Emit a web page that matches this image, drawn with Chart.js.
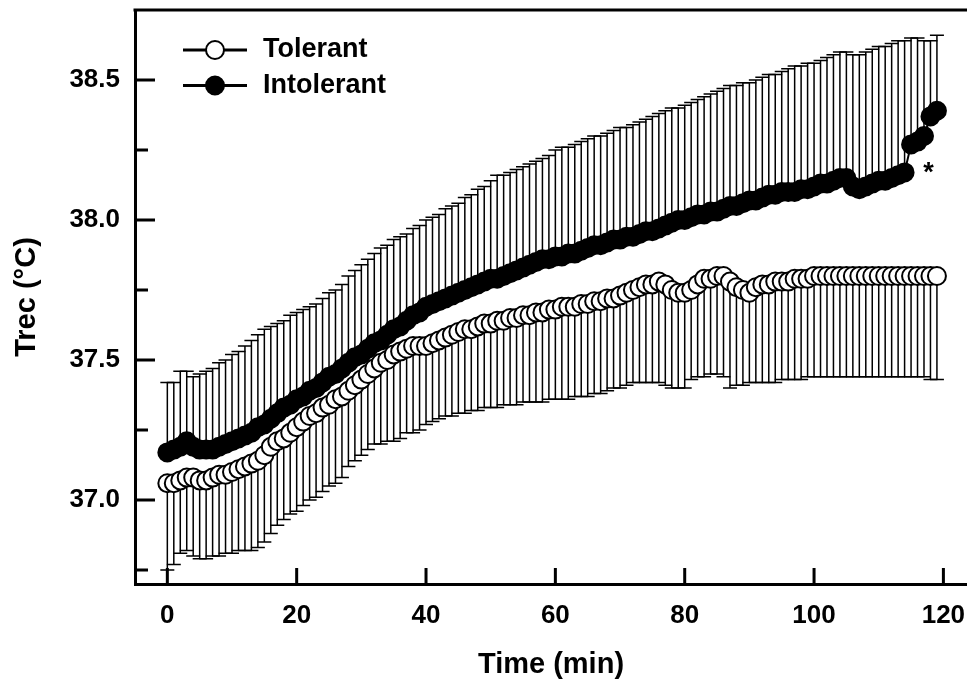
<!DOCTYPE html>
<html>
<head>
<meta charset="utf-8">
<title>Trec - Tolerant vs Intolerant</title>
<script src="https://cdn.jsdelivr.net/npm/chart.js@4.4.1/dist/chart.umd.min.js"></script>
<style>
  html, body { margin: 0; padding: 0; background: #fff; }
  #wrap { width: 967px; height: 690px; }
</style>
</head>
<body>
<div id="wrap"><canvas id="trecChart" width="967" height="690"></canvas></div>
<script>
// ==========================================
// DATA
// ==========================================

// Time points (min)
const minutes = [
  0, 1, 2, 3, 4, 5, 6, 7, 8, 9,
  10, 11, 12, 13, 14, 15, 16, 17, 18, 19,
  20, 21, 22, 23, 24, 25, 26, 27, 28, 29,
  30, 31, 32, 33, 34, 35, 36, 37, 38, 39,
  40, 41, 42, 43, 44, 45, 46, 47, 48, 49,
  50, 51, 52, 53, 54, 55, 56, 57, 58, 59,
  60, 61, 62, 63, 64, 65, 66, 67, 68, 69,
  70, 71, 72, 73, 74, 75, 76, 77, 78, 79,
  80, 81, 82, 83, 84, 85, 86, 87, 88, 89,
  90, 91, 92, 93, 94, 95, 96, 97, 98, 99,
  100, 101, 102, 103, 104, 105, 106, 107, 108, 109,
  110, 111, 112, 113, 114, 115, 116, 117, 118, 119
];

// Tolerant: mean Trec (°C)
const tolerantMean = [
  37.06, 37.06, 37.07, 37.08, 37.08, 37.07, 37.07, 37.08, 37.09, 37.09,
  37.10, 37.11, 37.12, 37.13, 37.14, 37.16, 37.19, 37.21, 37.22, 37.24,
  37.26, 37.28, 37.30, 37.31, 37.33, 37.34, 37.36, 37.37, 37.39, 37.41,
  37.43, 37.45, 37.47, 37.49, 37.50, 37.52, 37.53, 37.54, 37.55, 37.55,
  37.55, 37.56, 37.57, 37.58, 37.59, 37.60, 37.61, 37.61, 37.62, 37.63,
  37.63, 37.64, 37.64, 37.65, 37.65, 37.66, 37.66, 37.67, 37.67, 37.68,
  37.68, 37.69, 37.69, 37.69, 37.70, 37.70, 37.71, 37.71, 37.72, 37.72,
  37.73, 37.74, 37.75, 37.76, 37.77, 37.77, 37.78, 37.77, 37.75, 37.74,
  37.74, 37.75, 37.77, 37.79, 37.79, 37.80, 37.80, 37.78, 37.76, 37.75,
  37.74, 37.76, 37.77, 37.77, 37.78, 37.78, 37.78, 37.79, 37.79, 37.79,
  37.80, 37.80, 37.80, 37.80, 37.80, 37.80, 37.80, 37.80, 37.80, 37.80,
  37.80, 37.80, 37.80, 37.80, 37.80, 37.80, 37.80, 37.80, 37.80, 37.80
];

// Tolerant: lower end of the SD bar (°C)
const tolerantLower = [
  36.75, 36.77, 36.81, 36.82, 36.80, 36.79, 36.79, 36.80, 36.80, 36.81,
  36.81, 36.82, 36.82, 36.82, 36.83, 36.85, 36.88, 36.91, 36.93, 36.95,
  36.96, 36.98, 37.00, 37.01, 37.03, 37.05, 37.06, 37.08, 37.12, 37.14,
  37.16, 37.18, 37.20, 37.20, 37.21, 37.21, 37.22, 37.24, 37.24, 37.25,
  37.27, 37.28, 37.29, 37.30, 37.30, 37.31, 37.31, 37.32, 37.32, 37.33,
  37.33, 37.33, 37.34, 37.34, 37.34, 37.35, 37.35, 37.35, 37.35, 37.36,
  37.36, 37.36, 37.36, 37.37, 37.37, 37.37, 37.38, 37.38, 37.39, 37.40,
  37.40, 37.41, 37.42, 37.42, 37.42, 37.42, 37.42, 37.41, 37.40, 37.40,
  37.40, 37.43, 37.44, 37.44, 37.45, 37.45, 37.44, 37.40, 37.41, 37.41,
  37.42, 37.42, 37.42, 37.42, 37.42, 37.43, 37.43, 37.43, 37.43, 37.44,
  37.44, 37.44, 37.44, 37.44, 37.44, 37.44, 37.44, 37.44, 37.44, 37.44,
  37.44, 37.44, 37.44, 37.44, 37.44, 37.44, 37.44, 37.44, 37.43, 37.43
];

// Intolerant: mean Trec (°C)
const intolerantMean = [
  37.17, 37.18, 37.19, 37.21, 37.19, 37.18, 37.18, 37.18, 37.19, 37.20,
  37.21, 37.22, 37.23, 37.24, 37.26, 37.27, 37.29, 37.31, 37.33, 37.34,
  37.36, 37.37, 37.39, 37.40, 37.42, 37.44, 37.45, 37.47, 37.49, 37.51,
  37.52, 37.54, 37.56, 37.57, 37.59, 37.61, 37.62, 37.64, 37.66, 37.67,
  37.69, 37.70, 37.71, 37.72, 37.73, 37.74, 37.75, 37.76, 37.77, 37.78,
  37.79, 37.79, 37.80, 37.81, 37.82, 37.83, 37.84, 37.85, 37.86, 37.86,
  37.87, 37.87, 37.88, 37.88, 37.89, 37.90, 37.91, 37.91, 37.92, 37.93,
  37.93, 37.94, 37.94, 37.95, 37.96, 37.96, 37.97, 37.98, 37.99, 38.00,
  38.00, 38.01, 38.02, 38.02, 38.03, 38.03, 38.04, 38.05, 38.05, 38.06,
  38.07, 38.07, 38.08, 38.09, 38.09, 38.10, 38.10, 38.10, 38.11, 38.11,
  38.12, 38.13, 38.13, 38.14, 38.15, 38.15, 38.12, 38.11, 38.12, 38.13,
  38.14, 38.14, 38.15, 38.16, 38.17, 38.27, 38.28, 38.30, 38.37, 38.39
];

// Intolerant: upper end of the SD bar (°C)
const intolerantUpper = [
  37.42, 37.42, 37.46, 37.46, 37.44, 37.45, 37.46, 37.47, 37.49, 37.50,
  37.52, 37.53, 37.55, 37.57, 37.59, 37.61, 37.62, 37.63, 37.64, 37.66,
  37.67, 37.68, 37.69, 37.70, 37.72, 37.74, 37.75, 37.77, 37.80, 37.82,
  37.84, 37.86, 37.88, 37.90, 37.91, 37.93, 37.94, 37.95, 37.97, 37.98,
  38.00, 38.01, 38.02, 38.04, 38.05, 38.06, 38.08, 38.09, 38.11, 38.12,
  38.14, 38.16, 38.16, 38.17, 38.18, 38.19, 38.20, 38.21, 38.22, 38.23,
  38.25, 38.26, 38.26, 38.27, 38.28, 38.29, 38.30, 38.30, 38.31, 38.32,
  38.33, 38.33, 38.34, 38.35, 38.36, 38.37, 38.38, 38.39, 38.40, 38.40,
  38.41, 38.42, 38.43, 38.44, 38.45, 38.46, 38.47, 38.48, 38.48, 38.49,
  38.49, 38.50, 38.51, 38.52, 38.52, 38.53, 38.54, 38.55, 38.55, 38.56,
  38.56, 38.57, 38.58, 38.59, 38.60, 38.60, 38.59, 38.59, 38.60, 38.61,
  38.62, 38.62, 38.63, 38.64, 38.64, 38.65, 38.65, 38.64, 38.64, 38.66
];

// Axis ticks
const xTickValues = [0, 20, 40, 60, 80, 100, 120];
const yMajorTicks = [37.0, 37.5, 38.0, 38.5];
const yMinorTicks = [36.75, 37.25, 37.75, 38.25];

// Significance marker (index into the Intolerant series)
const sigIndex = [114];
const sigText = ['*'];

// ==========================================
// PLUGINS
// ==========================================

const FONT = '"Liberation Sans", Arial, Helvetica, sans-serif';

// One-sided SD bars, drawn under the markers
const errorBars = {
  id: 'errorBars',
  beforeDatasetsDraw(chart) {
    const { ctx, scales: { x, y } } = chart;
    ctx.save();
    ctx.strokeStyle = '#000';
    ctx.lineWidth = 1.5;
    chart.data.datasets.forEach(ds => {
      ds.errorEnds.forEach((end, i) => {
        const px = x.getPixelForValue(ds.data[i].x);
        const py0 = y.getPixelForValue(ds.data[i].y);
        const py1 = y.getPixelForValue(end);
        ctx.beginPath();
        ctx.moveTo(px, py0);
        ctx.lineTo(px, py1);
        ctx.moveTo(px - 7, py1);
        ctx.lineTo(px + 7, py1);
        ctx.stroke();
      });
    });
    ctx.restore();
  }
};

// Inward tick marks and the top frame line
const axisDecor = {
  id: 'axisDecor',
  afterDraw(chart) {
    const { ctx, chartArea: area, scales: { x, y } } = chart;
    ctx.save();
    ctx.strokeStyle = '#000';
    ctx.lineWidth = 3;
    ctx.beginPath();
    xTickValues.forEach(v => {
      const px = x.getPixelForValue(v);
      ctx.moveTo(px, area.bottom);
      ctx.lineTo(px, area.bottom - 16);
    });
    yMajorTicks.forEach(v => {
      const py = y.getPixelForValue(v);
      ctx.moveTo(area.left, py);
      ctx.lineTo(area.left + 20, py);
    });
    yMinorTicks.forEach(v => {
      const py = y.getPixelForValue(v);
      ctx.moveTo(area.left, py);
      ctx.lineTo(area.left + 13, py);
    });
    ctx.moveTo(area.left - 1.5, area.top);
    ctx.lineTo(area.right, area.top);
    ctx.stroke();
    ctx.restore();
  }
};

// Legend: line + marker + label
const lineLegend = {
  id: 'lineLegend',
  afterDraw(chart) {
    const { ctx, chartArea: area } = chart;
    ctx.save();
    chart.data.datasets.forEach((ds, i) => {
      const cy = area.top + 40 + i * 35.5;
      const x0 = area.left + 48;
      ctx.strokeStyle = '#000';
      ctx.lineWidth = 3;
      ctx.beginPath();
      ctx.moveTo(x0, cy);
      ctx.lineTo(x0 + 64, cy);
      ctx.stroke();
      ctx.beginPath();
      ctx.arc(x0 + 32, cy, ds.pointRadius, 0, Math.PI * 2);
      ctx.fillStyle = ds.pointBackgroundColor;
      ctx.fill();
      ctx.lineWidth = ds.pointBorderWidth;
      ctx.stroke();
      ctx.fillStyle = '#000';
      ctx.font = 'bold 27px ' + FONT;
      ctx.textAlign = 'left';
      ctx.textBaseline = 'middle';
      ctx.fillText(ds.label, x0 + 80, cy);
    });
    ctx.restore();
  }
};

// Asterisk beside the significant Intolerant point
const sigMarks = {
  id: 'sigMarks',
  afterDatasetsDraw(chart) {
    const { ctx, scales: { x, y } } = chart;
    const ds = chart.data.datasets[1];
    ctx.save();
    ctx.fillStyle = '#000';
    ctx.font = 'bold 27px ' + FONT;
    ctx.textAlign = 'center';
    ctx.textBaseline = 'alphabetic';
    sigIndex.forEach((idx, k) => {
      const px = x.getPixelForValue(ds.data[idx].x);
      const py = y.getPixelForValue(ds.data[idx].y);
      ctx.fillText(sigText[k], px + 24, py + 9);
    });
    ctx.restore();
  }
};

// ==========================================
// CHART
// ==========================================

const tolerantPoints = minutes.map((m, i) => ({ x: m, y: tolerantMean[i] }));
const intolerantPoints = minutes.map((m, i) => ({ x: m, y: intolerantMean[i] }));

new Chart(document.getElementById('trecChart'), {
  type: 'line',
  data: {
    datasets: [
      {
        label: 'Tolerant',
        data: tolerantPoints,
        errorEnds: tolerantLower,
        borderColor: '#000',
        borderWidth: 2,
        pointRadius: 9,
        pointBorderWidth: 2,
        pointBackgroundColor: '#fff',
        pointBorderColor: '#000',
        tension: 0,
        fill: false
      },
      {
        label: 'Intolerant',
        data: intolerantPoints,
        errorEnds: intolerantUpper,
        borderColor: '#000',
        borderWidth: 2,
        pointRadius: 9,
        pointBorderWidth: 2,
        pointBackgroundColor: '#000',
        pointBorderColor: '#000',
        tension: 0,
        fill: false
      }
    ]
  },
  options: {
    responsive: false,
    animation: false,
    devicePixelRatio: 1,
    events: [],
    layout: { autoPadding: false, padding: { top: 10, right: 0, bottom: 0, left: 0 } },
    plugins: {
      legend: { display: false },
      tooltip: { enabled: false }
    },
    scales: {
      x: {
        type: 'linear',
        min: -5,
        max: 123.65,
        afterBuildTicks: scale => { scale.ticks = xTickValues.map(v => ({ value: v })); },
        afterFit: scale => {
          scale.height = 106;
          scale.paddingLeft = 0;
          scale.paddingRight = 0;
        },
        grid: { display: false, drawTicks: false },
        border: { display: true, color: '#000', width: 3 },
        ticks: {
          color: '#000',
          font: { family: FONT, size: 26, weight: 'bold' },
          padding: 16,
          autoSkip: false,
          maxRotation: 0
        },
        title: {
          display: true,
          text: 'Time (min)',
          color: '#000',
          font: { family: FONT, size: 29, weight: 'bold' },
          padding: { top: 0, bottom: 8 }
        }
      },
      y: {
        type: 'linear',
        min: 36.7,
        max: 38.75,
        afterBuildTicks: scale => { scale.ticks = yMajorTicks.map(v => ({ value: v })); },
        afterFit: scale => {
          scale.width = 135;
          scale.paddingTop = 0;
          scale.paddingBottom = 0;
        },
        grid: { display: false, drawTicks: false },
        border: { display: true, color: '#000', width: 3 },
        ticks: {
          color: '#000',
          font: { family: FONT, size: 26, weight: 'bold' },
          padding: 15,
          autoSkip: false,
          callback: value => Number(value).toFixed(1)
        },
        title: {
          display: true,
          text: 'Trec (°C)',
          color: '#000',
          font: { family: FONT, size: 29, weight: 'bold' },
          padding: { top: 10, bottom: 0 }
        }
      }
    }
  },
  plugins: [errorBars, axisDecor, lineLegend, sigMarks]
});
</script>
</body>
</html>
